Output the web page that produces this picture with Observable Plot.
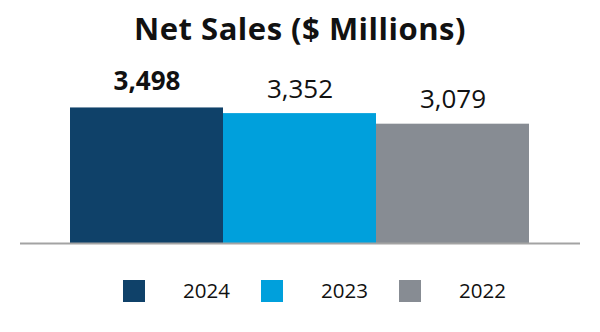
<!DOCTYPE html>
<html>
<head>
<meta charset="utf-8">
<script src="https://cdn.jsdelivr.net/npm/d3@7"></script>
<script src="https://cdn.jsdelivr.net/npm/@observablehq/plot@0.6"></script>
<style>
  html, body { margin: 0; padding: 0; background: #fff; }
  body { width: 600px; height: 332px; position: relative; overflow: hidden; font-family: "Open Sans", sans-serif; color: #111; }
  #title { position: absolute; left: 0; top: 7px; width: 600px; text-align: center; font-size: 31px; font-weight: 700; letter-spacing: 0.5px; line-height: normal; white-space: nowrap; }
  #chart { position: absolute; left: 0; top: 60px; }
  #legend { position: absolute; left: 0; top: 270px; width: 600px; height: 62px; }
  .item { position: absolute; top: 0; height: 62px; }
  .sw { position: absolute; top: 10px; left: 0; width: 22px; height: 22px; }
  .lab { position: absolute; top: 6.3px; left: 60px; font-size: 20.5px; line-height: normal; white-space: nowrap; }
</style>
</head>
<body>
<div id="title"></div>
<div id="chart"></div>
<div id="legend"></div>
<script>
const titleText = "Net Sales ($ Millions)";
const years = ["2024", "2023", "2022"];
const sales = [3498, 3352, 3079];
const colors = ["#0f4169", "#00a0dc", "#878c93"];

const data = years.map((y, i) => ({year: y, value: sales[i]}));

document.getElementById("title").textContent = titleText;

const chart = Plot.plot({
  width: 600,
  height: 210,
  marginTop: 28,
  marginBottom: 27,
  marginLeft: 20,
  marginRight: 20,
  style: {fontFamily: "Open Sans, sans-serif", background: "transparent"},
  x: {domain: years, range: [70, 529], padding: 0, axis: null},
  y: {domain: [0, 4000], axis: null},
  color: {domain: years, range: colors},
  marks: [
    Plot.barY(data, {x: "year", y: "value", fill: "year"}),
    Plot.ruleY([0], {stroke: "#a3a3a3", strokeWidth: 2}),
    Plot.text(data.filter((d, i) => i === 0), {
      x: "year", y: "value", text: d => d3.format(",")(d.value),
      lineAnchor: "bottom", dy: -18, fontSize: 26, fontWeight: 700, fill: "#111"
    }),
    Plot.text(data.filter((d, i) => i > 0), {
      x: "year", y: "value", text: d => d3.format(",")(d.value),
      lineAnchor: "bottom", dy: -16, fontSize: 26, fontWeight: 400, fill: "#111"
    })
  ]
});
document.getElementById("chart").appendChild(chart);

const legend = document.getElementById("legend");
years.forEach((y, i) => {
  const item = document.createElement("div");
  item.className = "item";
  item.style.left = (123 + i * 138) + "px";
  const sw = document.createElement("div");
  sw.className = "sw";
  sw.style.background = colors[i];
  const lab = document.createElement("div");
  lab.className = "lab";
  lab.textContent = y;
  item.appendChild(sw);
  item.appendChild(lab);
  legend.appendChild(item);
});
</script>
</body>
</html>
